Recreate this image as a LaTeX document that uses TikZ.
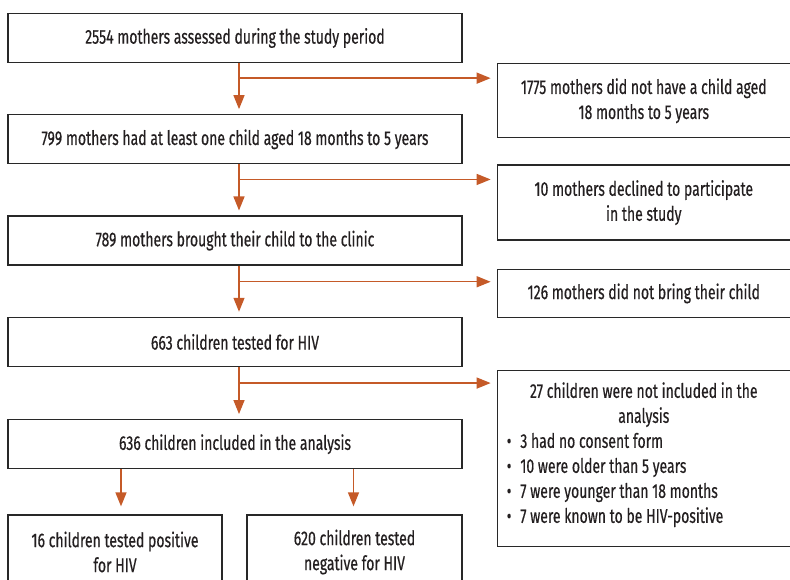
\documentclass[tikz,border=0pt]{standalone}
\usepackage{fontspec}
\setmainfont[FakeStretch=0.7,FakeBold=0.5]{Fira Sans}
\usetikzlibrary{positioning,arrows.meta}
\definecolor{flow}{RGB}{197,90,40}
\definecolor{edge}{RGB}{40,40,40}
\definecolor{ink}{RGB}{35,31,32}

\begin{document}
\begin{tikzpicture}[font=\fontsize{20}{25}\selectfont, text=ink]
    \tikzstyle{box} = [draw=edge, line width=1.3pt, minimum width=454pt, minimum height=49pt, inner sep=0pt, align=center]
    \tikzstyle{side} = [draw=edge, line width=1.3pt, minimum width=293pt, inner sep=0pt, align=center, anchor=north west]
    \tikzstyle{leaf} = [draw=edge, line width=1.3pt, minimum height=74pt, inner sep=0pt, align=center]
    \tikzstyle{arr} = [draw=flow, line width=1.4pt, -{Triangle[length=14pt,width=11pt]}]
    \useasboundingbox (0,0) rectangle (790pt,-579pt);
        % main column
        \node[box] (a) at (235pt,-38pt) {2554 mothers assessed during the study period};
        \node[box,below=51pt of a] (b) {799 mothers had at least one child aged 18 months to 5 years};
        \node[box,below=51pt of b] (c) {789 mothers brought their child to the clinic};
        \node[box,below=51pt of c] (d) {663 children tested for HIV};
        \node[box,below=52pt of d] (e) {636 children included in the analysis};
        % excluded
        \node[side,minimum height=74pt] (r1) at ([xshift=34pt]a.south east) {1775 mothers did not have a child aged\\18 months to 5 years};
        \node[side,minimum height=75pt] (r2) at ([xshift=34pt]b.south east) {10 mothers declined to participate\\in the study};
        \node[side,minimum height=48pt] (r3) at ([xshift=34pt,yshift=-3pt]c.south east) {126 mothers did not bring their child};
        \node[side,minimum height=176pt] (r4) at ([xshift=34pt,yshift=-3pt]d.south east) {\parbox{274pt}{%
            {\centering 27 children were not included in the\par analysis\par}
            \raggedright
            \textbullet\hspace{9pt}3 had no consent form\par
            \textbullet\hspace{9pt}10 were older than 5 years\par
            \textbullet\hspace{9pt}7 were younger than 18 months\par
            \textbullet\hspace{9pt}7 were known to be HIV-positive\par
            \vspace{8pt}}};
        % results
        \node[leaf,minimum width=214pt,anchor=north west] (f) at ([yshift=-45pt]e.south west) {16 children tested positive\\for HIV};
        \node[leaf,minimum width=215pt,anchor=north east] (g) at ([yshift=-45pt]e.south east) {620 children tested\\negative for HIV};
        % arrows down
        \draw[arr,shorten >=5pt] ([xshift=4pt]a.south) -- ([xshift=4pt]b.north);
        \draw[arr,shorten >=5pt] ([xshift=4pt]b.south) -- ([xshift=4pt]c.north);
        \draw[arr,shorten >=5pt] ([xshift=4pt]c.south) -- ([xshift=4pt]d.north);
        \draw[arr,shorten >=5pt] ([xshift=4pt]d.south) -- ([xshift=4pt]e.north);
        % arrows right
        \coordinate (ja) at ([xshift=4pt,yshift=-15pt]a.south);
        \coordinate (jb) at ([xshift=4pt,yshift=-15pt]b.south);
        \coordinate (jc) at ([xshift=4pt,yshift=-16pt]c.south);
        \coordinate (jd) at ([xshift=4pt,yshift=-16pt]d.south);
        \draw[arr,shorten >=6pt] (ja) -- (ja -| r1.west);
        \draw[arr,shorten >=6pt] (jb) -- (jb -| r2.west);
        \draw[arr,shorten >=6pt] (jc) -- (jc -| r3.west);
        \draw[arr,shorten >=6pt] (jd) -- (jd -| r4.west);
        % split
        \draw[arr,shorten >=8pt] ([xshift=6pt]e.south -| f.north) -- ([xshift=6pt]f.north);
        \draw[arr,shorten >=8pt] ([xshift=-1pt]e.south -| g.north) -- ([xshift=-1pt]g.north);
\end{tikzpicture}
\end{document}
